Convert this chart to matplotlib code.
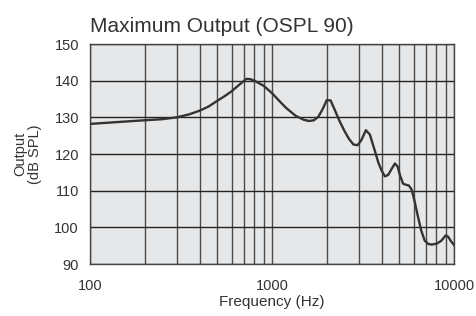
import matplotlib.pyplot as plt
from matplotlib.ticker import FixedLocator, NullFormatter

plt.rcParams['font.family'] = ['Liberation Sans', 'DejaVu Sans']

# Frequency response
freq = [100, 150, 200, 250, 300, 350, 400, 450, 500, 550, 600, 650, 700, 722, 760,
        800, 900, 1000, 1100, 1200, 1350, 1500, 1600, 1700, 1800, 1900, 2000, 2100,
        2200, 2350, 2500, 2650, 2800, 2950, 3100, 3280, 3450, 3650, 3850, 4000,
        4170, 4350, 4550, 4735, 4900, 5050, 5250, 5450, 5650, 5850, 6050, 6300,
        6600, 6900, 7200, 7500, 8000, 8500, 8800, 9000, 9300, 9600, 10000]
spl = [128.2, 128.8, 129.2, 129.5, 130.0, 130.8, 131.8, 133.0, 134.5, 135.8, 137.1,
       138.6, 139.9, 140.5, 140.4, 140.0, 138.6, 136.6, 134.4, 132.5, 130.4, 129.3,
       129.0, 129.2, 130.2, 132.3, 134.7, 134.6, 132.3, 129.0, 126.3, 124.1, 122.6,
       122.4, 123.8, 126.5, 125.3, 121.3, 117.5, 115.5, 113.9, 114.3, 116.0, 117.4,
       116.6, 114.2, 111.9, 111.6, 111.4, 110.3, 107.5, 103.5, 99.2, 96.4, 95.5,
       95.3, 95.5, 96.3, 97.2, 97.8, 97.4, 96.3, 95.2]

yticks = [90, 100, 110, 120, 130, 140, 150]
xticks = [100, 1000, 10000]
minor_x = [200, 300, 400, 500, 600, 700, 800, 900,
           2000, 3000, 4000, 5000, 6000, 7000, 8000, 9000]

fig = plt.figure(figsize=(4.76, 3.16), dpi=100)
ax = fig.add_axes([90 / 476, 1 - 264 / 316, 364 / 476, 220 / 316])
ax.set_facecolor('#e6e7e8')

ax.plot(freq, spl, color='#333333', linewidth=1.7, zorder=3)

ax.set_xscale('log')
ax.set_xlim(100, 10000)
ax.set_ylim(90, 150)
ax.set_xticks(xticks)
ax.set_xticklabels([str(x) for x in xticks])
ax.xaxis.set_minor_locator(FixedLocator(minor_x))
ax.xaxis.set_minor_formatter(NullFormatter())
ax.set_yticks(yticks)

ax.grid(True, which='both', axis='x', color='#4a4a4a', linewidth=1.0)
ax.grid(True, which='major', axis='y', color='#222222', linewidth=1.0)
ax.set_axisbelow(True)

for s in ax.spines.values():
    s.set_color('#444444')
    s.set_linewidth(1.0)

ax.tick_params(which='both', length=0, labelsize=10.5, labelcolor='#333333')
ax.tick_params(axis='x', pad=11)
ax.tick_params(axis='y', pad=8)

ax.set_xlabel('Frequency (Hz)', fontsize=11, color='#333333', labelpad=1)
ax.set_ylabel('Output\n(dB SPL)', fontsize=10.5, color='#333333', labelpad=9,
              linespacing=1.05)
ax.set_title('Maximum Output (OSPL 90)', loc='left', fontsize=15,
             color='#333333', pad=9)

fig.savefig('out.png', dpi=100)
